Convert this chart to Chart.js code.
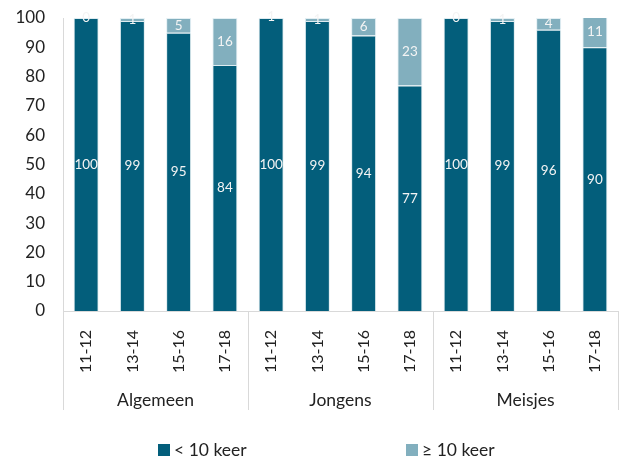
<!DOCTYPE html>
<html><head><meta charset="utf-8">
<script src="https://cdn.jsdelivr.net/npm/chart.js@4.4.1/dist/chart.umd.min.js"></script>
<style>
html,body{margin:0;padding:0;background:#fff;}
#wrap{position:relative;width:624px;height:457px;overflow:hidden;}
#c{position:absolute;left:0;top:0;}
.leg{position:absolute;top:441px;font:17.5px Lato, sans-serif;color:#222;display:flex;align-items:center;line-height:17px;white-space:nowrap;}
.leg .box{display:inline-block;width:12px;height:12px;margin-right:4px;}
</style></head>
<body><div id="wrap"><canvas id="c" width="624" height="457"></canvas>
<div class="leg" style="left:158px"><span class="box" style="background:#035E7B"></span><span id="l0"></span></div>
<div class="leg" style="left:406px"><span class="box" style="background:#82AFBE"></span><span id="l1"></span></div>
</div>
<script>
const categories = ['11-12','13-14','15-16','17-18','11-12','13-14','15-16','17-18','11-12','13-14','15-16','17-18'];
const groups = ['Algemeen','Jongens','Meisjes'];
const seriesNames = ['< 10 keer','≥ 10 keer'];
const lessThan10 = [100,99,95,84,100,99,94,77,100,99,96,90];
const atLeast10 = [0,1,5,16,1,1,6,23,0,1,4,11];
const yTickValues = [0,10,20,30,40,50,60,70,80,90,100];

const DARK = '#035E7B', LIGHT = '#82AFBE', TEXT = '#222222', AXIS = '#d9d9d9';
const FONT = 'Lato, sans-serif';

document.getElementById('l0').textContent = seriesNames[0];
document.getElementById('l1').textContent = seriesNames[1];

const labelPlugin = {
  id: 'valueLabels',
  afterDatasetsDraw(chart) {
    const ctx = chart.ctx;
    ctx.save();
    ctx.font = '13.5px ' + FONT;
    ctx.fillStyle = '#f4f4f4';
    ctx.textAlign = 'center';
    ctx.textBaseline = 'middle';
    chart.data.datasets.forEach((ds, di) => {
      const meta = chart.getDatasetMeta(di);
      meta.data.forEach((bar, i) => {
        const p = bar.getProps(['x', 'y', 'base'], true);
        ctx.fillText(String(ds.data[i]), p.x, (p.y + p.base) / 2);
      });
    });
    ctx.restore();
  }
};

const groupPlugin = {
  id: 'groupLines',
  afterDraw(chart) {
    const ctx = chart.ctx, x = chart.scales.x, x2 = chart.scales.x2;
    const per = categories.length / groups.length;
    ctx.save();
    ctx.strokeStyle = AXIS;
    ctx.lineWidth = 1;
    for (let g = 0; g <= groups.length; g++) {
      const px = Math.round(x.getPixelForValue(g * per - 0.5)) + 0.5;
      ctx.beginPath();
      ctx.moveTo(px, chart.chartArea.bottom);
      ctx.lineTo(px, x2.bottom - 2);
      ctx.stroke();
    }
    ctx.restore();
  }
};

function noPad(scale) { scale.paddingLeft = 0; scale.paddingRight = 0; scale.paddingTop = 0; scale.paddingBottom = 0; }

new Chart(document.getElementById('c'), {
  type: 'bar',
  data: {
    labels: categories,
    datasets: [
      { label: seriesNames[0], data: lessThan10, backgroundColor: DARK, borderColor: 'rgba(200,222,230,0.6)', borderWidth: 1, categoryPercentage: 1, barPercentage: 0.54 },
      { label: seriesNames[1], data: atLeast10, backgroundColor: LIGHT, borderColor: 'rgba(220,235,240,0.8)', borderWidth: 1, categoryPercentage: 1, barPercentage: 0.54 }
    ]
  },
  options: {
    responsive: false,
    animation: false,
    layout: { padding: { left: 14, right: 6, top: 18, bottom: 45 } },
    plugins: { legend: { display: false }, tooltip: { enabled: false } },
    scales: {
      x: {
        stacked: true,
        offset: true,
        grid: { display: false },
        border: { color: AXIS, width: 1 },
        afterFit(s) { noPad(s); s.height = 66; },
        ticks: { color: TEXT, font: { family: FONT, size: 16 }, minRotation: 90, maxRotation: 90, padding: 11, autoSkip: false }
      },
      x2: {
        type: 'category',
        labels: groups,
        position: 'bottom',
        offset: true,
        grid: { display: false },
        border: { display: false },
        afterFit(s) { noPad(s); s.height = 35; },
        ticks: { color: TEXT, font: { family: FONT, size: 17.5 }, padding: 5 }
      },
      y: {
        stacked: true,
        min: 0, max: 100,
        afterBuildTicks(scale) { scale.ticks = yTickValues.map(v => ({ value: v })); },
        afterFit(s) { noPad(s); s.width = 49; },
        grid: { display: false, drawTicks: false },
        border: { color: AXIS, width: 1 },
        ticks: { color: TEXT, font: { family: FONT, size: 17 }, padding: 18 }
      }
    }
  },
  plugins: [labelPlugin, groupPlugin]
});
</script>
</body></html>
